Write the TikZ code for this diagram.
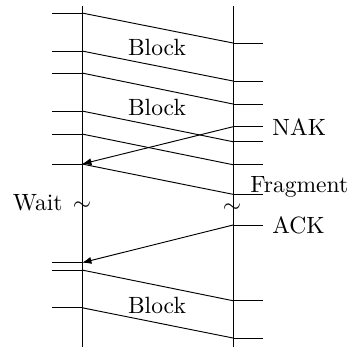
\documentclass[tikz,border=0pt]{standalone}
\usetikzlibrary{arrows.meta}
\begin{document}
\begin{tikzpicture}[x=0.425pt,y=-0.425pt,
  lifeline/.style={line width=0.4pt},
  tick/.style={line width=0.4pt},
  msg/.style={line width=0.4pt},
  reply/.style={line width=0.4pt,-{Latex[length=4pt,width=3pt]}},
  lbl/.style={inner sep=0pt,font=\normalsize}]
\useasboundingbox (0,0) rectangle (361,347);

% the two stations
\coordinate (LT) at (82,6);   \coordinate (LB) at (82,347);
\coordinate (RT) at (233,6);  \coordinate (RB) at (233,347);
\draw[lifeline] (LT) -- (LB);
\draw[lifeline] (RT) -- (RB);

% sender side events
\foreach \n/\y in {1/13,2/51,3/73,4/111,5/134,6/164,7/262.7,8/270,9/307.7}{
  \coordinate (L\n) at (82,\y);
  \coordinate (l\n) at (52,\y);
  \draw[tick] (l\n) -- (L\n);
}
% receiver side events
\foreach \n/\y in {1/43,2/81,3/104,4/126.7,5/141.7,6/164.7,7/194.3,8/225,9/300.7,10/338}{
  \coordinate (R\n) at (233,\y);
  \coordinate (r\n) at (263,\y);
  \draw[tick] (R\n) -- (r\n);
}

% data transfers
\draw[msg] (L1) -- (R1);
\draw[msg] (L2) -- (R2);
\draw[msg] (L3) -- (R3);
\draw[msg] (L4) -- (R5);
\draw[msg] (L5) -- (R6);
\draw[msg] (L6) -- (R7);
\draw[msg] (L8) -- (R9);
\draw[msg] (L9) -- (R10);

% acknowledgements
\draw[reply] (R4) -- (L6);
\draw[reply] (R8) -- (L7);

% labels
\node[lbl,anchor=base] (b1) at (157,55) {Block};
\node[lbl,anchor=base] (b2) at (157,115) {Block};
\node[lbl,anchor=base] (b3) at (157,313) {Block};
\node[lbl,anchor=base west] (nak) at (272,135) {NAK};
\node[lbl,anchor=base west] (frag) at (250,192) {Fragment};
\node[lbl,anchor=base west] (ack) at (272,233) {ACK};
\node[lbl,anchor=base east] (wait) at (63,210) {Wait};
\node[lbl] (tl) at (82,206) {$\sim$};
\node[lbl] (tr) at (232,208) {$\sim$};
\end{tikzpicture}
\end{document}
